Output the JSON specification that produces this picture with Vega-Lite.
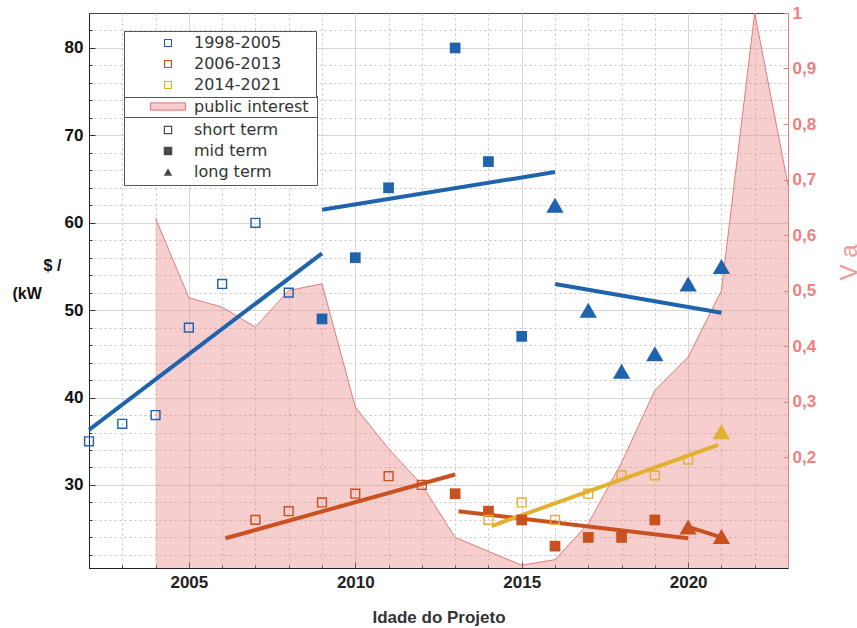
{
  "$schema": "https://vega.github.io/schema/vega-lite/v6.json",
  "autosize": {"type": "none"},
  "width": 699,
  "height": 555,
  "padding": {"left": 89, "top": 13, "right": 69, "bottom": 60},
  "background": "white",
  "datasets": {
    "pts": [
      {"year": 2002, "value": 35, "period": "1998-2005", "term": "short term"},
      {"year": 2003, "value": 37, "period": "1998-2005", "term": "short term"},
      {"year": 2004, "value": 38, "period": "1998-2005", "term": "short term"},
      {"year": 2005, "value": 48, "period": "1998-2005", "term": "short term"},
      {"year": 2006, "value": 53, "period": "1998-2005", "term": "short term"},
      {"year": 2007, "value": 60, "period": "1998-2005", "term": "short term"},
      {"year": 2008, "value": 52, "period": "1998-2005", "term": "short term"},
      {"year": 2009, "value": 49, "period": "1998-2005", "term": "mid term"},
      {"year": 2010, "value": 56, "period": "1998-2005", "term": "mid term"},
      {"year": 2011, "value": 64, "period": "1998-2005", "term": "mid term"},
      {"year": 2013, "value": 80, "period": "1998-2005", "term": "mid term"},
      {"year": 2014, "value": 67, "period": "1998-2005", "term": "mid term"},
      {"year": 2015, "value": 47, "period": "1998-2005", "term": "mid term"},
      {"year": 2016, "value": 62, "period": "1998-2005", "term": "long term"},
      {"year": 2017, "value": 50, "period": "1998-2005", "term": "long term"},
      {"year": 2018, "value": 43, "period": "1998-2005", "term": "long term"},
      {"year": 2019, "value": 45, "period": "1998-2005", "term": "long term"},
      {"year": 2020, "value": 53, "period": "1998-2005", "term": "long term"},
      {"year": 2021, "value": 55, "period": "1998-2005", "term": "long term"},
      {"year": 2007, "value": 26, "period": "2006-2013", "term": "short term"},
      {"year": 2008, "value": 27, "period": "2006-2013", "term": "short term"},
      {"year": 2009, "value": 28, "period": "2006-2013", "term": "short term"},
      {"year": 2010, "value": 29, "period": "2006-2013", "term": "short term"},
      {"year": 2011, "value": 31, "period": "2006-2013", "term": "short term"},
      {"year": 2012, "value": 30, "period": "2006-2013", "term": "short term"},
      {"year": 2013, "value": 29, "period": "2006-2013", "term": "mid term"},
      {"year": 2014, "value": 27, "period": "2006-2013", "term": "mid term"},
      {"year": 2015, "value": 26, "period": "2006-2013", "term": "mid term"},
      {"year": 2016, "value": 23, "period": "2006-2013", "term": "mid term"},
      {"year": 2017, "value": 24, "period": "2006-2013", "term": "mid term"},
      {"year": 2018, "value": 24, "period": "2006-2013", "term": "mid term"},
      {"year": 2019, "value": 26, "period": "2006-2013", "term": "mid term"},
      {"year": 2020, "value": 25.2, "period": "2006-2013", "term": "long term"},
      {"year": 2021, "value": 24.1, "period": "2006-2013", "term": "long term"},
      {"year": 2014, "value": 26, "period": "2014-2021", "term": "short term"},
      {"year": 2015, "value": 28, "period": "2014-2021", "term": "short term"},
      {"year": 2016, "value": 26, "period": "2014-2021", "term": "short term"},
      {"year": 2017, "value": 29, "period": "2014-2021", "term": "short term"},
      {"year": 2018, "value": 31.1, "period": "2014-2021", "term": "short term"},
      {"year": 2019, "value": 31.1, "period": "2014-2021", "term": "short term"},
      {"year": 2020, "value": 32.9, "period": "2014-2021", "term": "short term"},
      {"year": 2021, "value": 36.1, "period": "2014-2021", "term": "long term"}
    ],
    "fits": [
      {"seg": "b1", "period": "1998-2005", "year": 2002, "value": 36.3},
      {"seg": "b1", "period": "1998-2005", "year": 2009, "value": 56.5},
      {"seg": "b2", "period": "1998-2005", "year": 2009, "value": 61.5},
      {"seg": "b2", "period": "1998-2005", "year": 2016, "value": 65.8},
      {"seg": "b3", "period": "1998-2005", "year": 2016, "value": 53.0},
      {"seg": "b3", "period": "1998-2005", "year": 2021, "value": 49.7},
      {"seg": "o1", "period": "2006-2013", "year": 2006.1, "value": 23.9},
      {"seg": "o1", "period": "2006-2013", "year": 2013, "value": 31.2},
      {"seg": "o2", "period": "2006-2013", "year": 2013.1, "value": 27.0},
      {"seg": "o2", "period": "2006-2013", "year": 2020, "value": 23.9},
      {"seg": "o3", "period": "2006-2013", "year": 2020, "value": 25.2},
      {"seg": "o3", "period": "2006-2013", "year": 2021, "value": 24.0},
      {"seg": "y1", "period": "2014-2021", "year": 2014.1, "value": 25.3},
      {"seg": "y1", "period": "2014-2021", "year": 2020.9, "value": 34.6}
    ],
    "interest": [
      {"year": 2004, "interest": 0.63, "series": "public interest"},
      {"year": 2005, "interest": 0.487, "series": "public interest"},
      {"year": 2006, "interest": 0.47, "series": "public interest"},
      {"year": 2007, "interest": 0.434, "series": "public interest"},
      {"year": 2008, "interest": 0.5, "series": "public interest"},
      {"year": 2009, "interest": 0.512, "series": "public interest"},
      {"year": 2010, "interest": 0.29, "series": "public interest"},
      {"year": 2011, "interest": 0.215, "series": "public interest"},
      {"year": 2012, "interest": 0.15, "series": "public interest"},
      {"year": 2013, "interest": 0.055, "series": "public interest"},
      {"year": 2014, "interest": 0.03, "series": "public interest"},
      {"year": 2015, "interest": 0.005, "series": "public interest"},
      {"year": 2016, "interest": 0.015, "series": "public interest"},
      {"year": 2017, "interest": 0.08, "series": "public interest"},
      {"year": 2018, "interest": 0.19, "series": "public interest"},
      {"year": 2019, "interest": 0.32, "series": "public interest"},
      {"year": 2020, "interest": 0.38, "series": "public interest"},
      {"year": 2021, "interest": 0.5, "series": "public interest"},
      {"year": 2022, "interest": 1.0, "series": "public interest"},
      {"year": 2023, "interest": 0.69, "series": "public interest"}
    ]
  },
  "layer": [
    {
      "data": {"name": "interest"},
      "encoding": {
        "x": {
          "field": "year", "type": "quantitative",
          "scale": {"domain": [2002, 2023], "nice": false, "zero": false},
          "axis": {
            "title": "Idade do Projeto",
            "values": [2002, 2003, 2004, 2005, 2006, 2007, 2008, 2009, 2010, 2011, 2012, 2013, 2014, 2015, 2016, 2017, 2018, 2019, 2020, 2021, 2022, 2023],
            "labelExpr": "datum.value % 5 === 0 ? format(datum.value, 'd') : ''",
            "labelOverlap": false,
            "labelFlush": false,
            "grid": true,
            "gridColor": {"condition": {"test": "datum.value % 5 === 0", "value": "#d6d6d6"}, "value": "#c4c4c4"},
            "gridDash": {"condition": {"test": "datum.value % 5 === 0", "value": []}, "value": [2, 3]},
            "tickSize": {"condition": {"test": "datum.value % 5 === 0", "value": -6}, "value": -3},
            "tickColor": "#333",
            "domainColor": "#222",
            "labelFont": "Liberation Sans", "labelFontWeight": "bold", "labelFontSize": 17, "labelColor": "#222",
            "labelPadding": 12,
            "titleFont": "Liberation Sans", "titleFontWeight": "bold", "titleFontSize": 17, "titleColor": "#333",
            "titlePadding": 16
          }
        },
        "y": {
          "field": "interest", "type": "quantitative",
          "scale": {"domain": [0, 1], "nice": false},
          "axis": {
            "orient": "right",
            "title": "V a",
            "titleAngle": -90,
            "titleX": 61, "titleY": 249,
            "titleAlign": "center", "titleBaseline": "middle",
            "titleFont": "Liberation Sans", "titleFontWeight": "normal", "titleFontSize": 24, "titleColor": "#f19a9a",
            "values": [0.2, 0.3, 0.4, 0.5, 0.6, 0.7, 0.8, 0.9, 1.0],
            "labelExpr": "replace(format(datum.value, '~g'), '.', ',')",
            "labelOverlap": false,
            "grid": false,
            "tickSize": -5,
            "tickColor": "#e27f7f",
            "domainColor": "#e27f7f",
            "labelFont": "Liberation Sans", "labelFontWeight": "bold", "labelFontSize": 17, "labelColor": "#ef8080",
            "labelPadding": 9
          }
        }
      },
      "layer": [
        {
          "mark": {"type": "area"},
          "encoding": {
            "fill": {
              "field": "series", "type": "nominal",
              "scale": {"domain": ["public interest"], "range": ["rgba(236,138,138,0.42)"]},
              "legend": {
                "title": null, "orient": "none", "legendX": 35, "legendY": 82.5,
                "padding": 3, "symbolOffset": 33,
                "symbolType": "M-4.4,-0.9H4.4V0.9H-4.4Z",
                "symbolSize": 64,
                "symbolStrokeColor": "#e07070", "symbolStrokeWidth": 1,
                "labelExpr": "datum.label + '\u00a0\u200b'"
              }
            }
          }
        },
        {
          "mark": {"type": "line", "color": "#de7c7c", "strokeWidth": 1},
          "encoding": {}
        }
      ]
    },
    {
      "encoding": {
        "x": {
          "field": "year", "type": "quantitative",
          "scale": {"domain": [2002, 2023], "nice": false, "zero": false},
          "axis": {
            "title": "Idade do Projeto",
            "values": [2002, 2003, 2004, 2005, 2006, 2007, 2008, 2009, 2010, 2011, 2012, 2013, 2014, 2015, 2016, 2017, 2018, 2019, 2020, 2021, 2022, 2023],
            "labelExpr": "datum.value % 5 === 0 ? format(datum.value, 'd') : ''",
            "labelOverlap": false,
            "labelFlush": false,
            "grid": true,
            "gridColor": {"condition": {"test": "datum.value % 5 === 0", "value": "#d6d6d6"}, "value": "#c4c4c4"},
            "gridDash": {"condition": {"test": "datum.value % 5 === 0", "value": []}, "value": [2, 3]},
            "tickSize": {"condition": {"test": "datum.value % 5 === 0", "value": -6}, "value": -3},
            "tickColor": "#333",
            "domainColor": "#222",
            "labelFont": "Liberation Sans", "labelFontWeight": "bold", "labelFontSize": 17, "labelColor": "#222",
            "labelPadding": 12,
            "titleFont": "Liberation Sans", "titleFontWeight": "bold", "titleFontSize": 17, "titleColor": "#333",
            "titlePadding": 16
          }
        },
        "y": {
          "field": "value", "type": "quantitative",
          "scale": {"domain": [20.5, 84], "nice": false, "zero": false},
          "axis": {
            "title": ["\u200b\u00a0\u00a0\u00a0\u00a0\u00a0\u00a0\u00a0$ /", "(kW"],
            "titleAngle": 0, "titleAlign": "left", "titleBaseline": "alphabetic",
            "titleX": -77, "titleY": 257, "titleLineHeight": 28,
            "titleFont": "Liberation Sans", "titleFontWeight": "bold", "titleFontSize": 16, "titleColor": "#111",
            "values": [22, 24, 26, 28, 30, 32, 34, 36, 38, 40, 42, 44, 46, 48, 50, 52, 54, 56, 58, 60, 62, 64, 66, 68, 70, 72, 74, 76, 78, 80, 82],
            "labelExpr": "datum.value % 10 === 0 ? format(datum.value, 'd') : ''",
            "labelOverlap": false,
            "grid": true,
            "gridColor": {"condition": {"test": "datum.value % 10 === 0", "value": "#d6d6d6"}, "value": "#c4c4c4"},
            "gridDash": {"condition": {"test": "datum.value % 10 === 0", "value": []}, "value": [2, 3]},
            "tickSize": {"condition": {"test": "datum.value % 10 === 0", "value": -6}, "value": -3},
            "tickColor": "#333",
            "domainColor": "#222",
            "labelFont": "Liberation Sans", "labelFontWeight": "bold", "labelFontSize": 17, "labelColor": "#111",
            "labelPadding": 12
          }
        }
      },
      "layer": [
        {
          "data": {"name": "fits"},
          "mark": {"type": "line", "strokeWidth": 4},
          "encoding": {
            "detail": {"field": "seg"},
            "stroke": {"field": "period", "type": "nominal",
              "scale": {"domain": ["2014-2021", "2006-2013", "1998-2005"], "range": ["#e2b12f", "#c9511f", "#2063ad"]},
              "legend": null}
          }
        },
        {
          "data": {"name": "pts"},
          "mark": {"type": "point", "filled": true, "opacity": 1, "strokeWidth": 0},
          "encoding": {
            "color": {"field": "period", "type": "nominal",
              "scale": {"domain": ["1998-2005", "2006-2013", "2014-2021"], "range": ["#2063ad", "#c9511f", "#e2b12f"]},
              "legend": {
                "title": null, "orient": "none", "legendX": 35, "legendY": 18,
                "padding": 4, "symbolOffset": 32,
                "symbolType": "M-1,-1H1V1H-1Z M-0.72,-0.72V0.72H0.72V-0.72Z",
                "symbolSize": 64, "symbolStrokeWidth": 0,
                "labelExpr": "datum.label + '\u00a0\u00a0\u00a0\u00a0\u00a0\u00a0\u200b'"
              }
            },
            "shape": {"field": "term", "type": "nominal",
              "scale": {"domain": ["short term", "mid term", "long term"], "range": ["M-1,-1H1V1H-1Z M-0.72,-0.72V0.72H0.72V-0.72Z", "square", "triangle-up"]},
              "legend": {
                "title": null, "orient": "none", "legendX": 35, "legendY": 104,
                "padding": 5, "symbolOffset": 31,
                "symbolFillColor": "#4a4a4a", "symbolSize": 72, "symbolStrokeWidth": 0,
                "labelExpr": "datum.label + '\u00a0\u00a0\u00a0\u00a0\u00a0\u00a0\u2009\u200b'"
              }
            },
            "size": {"field": "term", "type": "nominal",
              "scale": {"type": "ordinal", "domain": ["long term", "mid term", "short term"], "range": [300, 115, 105]},
              "legend": null}
          }
        }
      ]
    }
  ],
  "resolve": {"scale": {"y": "independent"}},
  "config": {
    "view": {"stroke": "#444", "strokeWidth": 1},
    "axis": {"labelOverlap": false},
    "legend": {
      "labelFont": "DejaVu Sans", "labelFontSize": 16, "labelColor": "#333",
      "strokeColor": "#555", "fillColor": "white",
      "rowPadding": 5, "labelOffset": 18
    }
  }
}
